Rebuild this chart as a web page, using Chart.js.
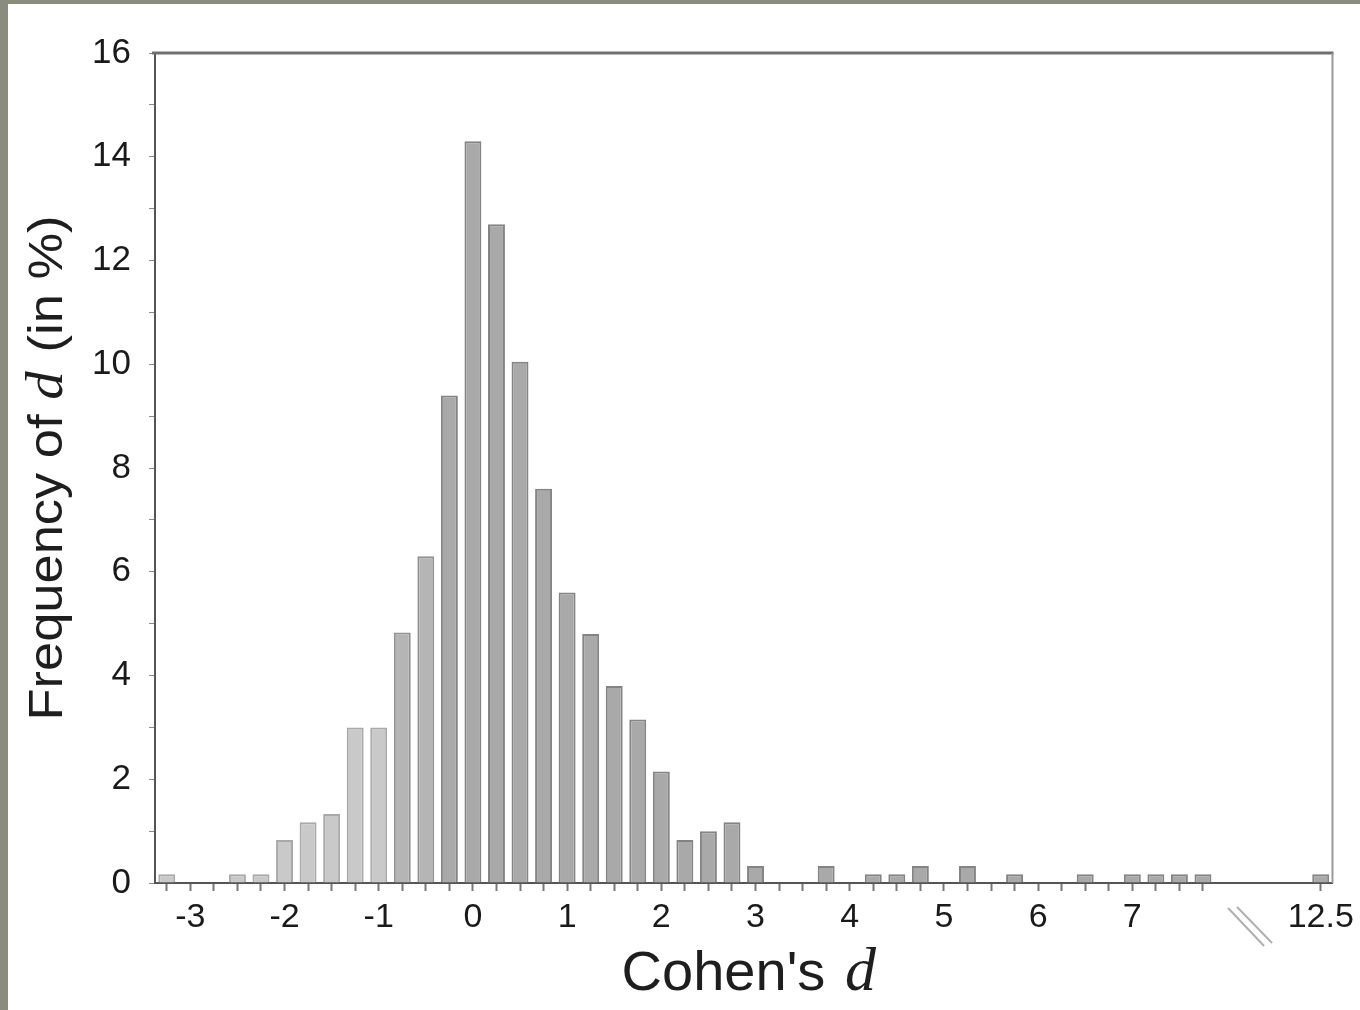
<!DOCTYPE html>
<html>
<head>
<meta charset="utf-8">
<script src="https://cdn.jsdelivr.net/npm/chart.js@4/dist/chart.umd.min.js"></script>
<style>
  html, body { margin: 0; padding: 0; }
  body { width: 1360px; height: 1010px; background: #8a8c7d; position: relative; overflow: hidden; }
  #wrap { position: absolute; left: 8px; top: 4px; width: 1352px; height: 1006px; background: #ffffff; }
  canvas { display: block; }
</style>
</head>
<body>
<div id="wrap"><canvas id="c" width="1352" height="1006"></canvas></div>
<script>
// Bin centres of Cohen's d (width 0.25); empty strings are the broken-axis gap
const binLabels = ['-3.25','-3','-2.75','-2.5','-2.25','-2','-1.75','-1.5','-1.25','-1',
  '-0.75','-0.5','-0.25','0','0.25','0.5','0.75','1','1.25','1.5',
  '1.75','2','2.25','2.5','2.75','3','3.25','3.5','3.75','4',
  '4.25','4.5','4.75','5','5.25','5.5','5.75','6','6.25','6.5',
  '6.75','7','7.25','7.5','7.75','','','','','12.5'];
// Frequency of d (in %)
const frequency = [0.17,0,0,0.17,0.17,0.83,1.17,1.33,3.0,3.0,
  4.83,6.3,9.4,14.3,12.7,10.05,7.6,5.6,4.8,3.8,
  3.15,2.15,0.83,1.0,1.17,0.33,0,0,0.33,0,
  0.17,0.17,0.33,0,0.33,0,0.17,0,0,0.17,
  0,0.17,0.17,0.17,0.17,null,null,null,null,0.17];
// Labelled x ticks
const xTickLabels = ['-3','-2','-1','0','1','2','3','4','5','6','7','12.5'];
// y axis range / ticks
const yMin = 0, yMax = 16, yMajorStep = 2;

const SANS = '"Liberation Sans", Arial, Helvetica, sans-serif';
const SERIF = '"Liberation Serif", "Times New Roman", serif';

const framePlugin = {
  id: 'frame',
  afterDatasetsDraw(chart) {
    const { ctx, chartArea: a, scales } = chart;
    ctx.save();
    // top frame line
    ctx.strokeStyle = '#707070';
    ctx.lineWidth = 3;
    ctx.beginPath();
    ctx.moveTo(a.left - 3, a.top);
    ctx.lineTo(a.right + 1, a.top);
    ctx.stroke();
    // right frame line
    ctx.strokeStyle = '#9a9a9a';
    ctx.lineWidth = 2;
    ctx.beginPath();
    ctx.moveTo(a.right, a.top);
    ctx.lineTo(a.right, a.bottom);
    ctx.stroke();
    // axis break marks
    const bx = scales.x.getPixelForValue(46);
    ctx.strokeStyle = '#b0b0b0';
    ctx.lineWidth = 2;
    ctx.beginPath();
    ctx.moveTo(bx - 22, a.bottom + 25); ctx.lineTo(bx + 14, a.bottom + 63);
    ctx.moveTo(bx - 13, a.bottom + 24); ctx.lineTo(bx + 22, a.bottom + 60);
    ctx.stroke();
    ctx.restore();
  },
  afterDraw(chart) {
    const { ctx, chartArea: a } = chart;
    ctx.save();
    ctx.fillStyle = '#1e1e1e';
    // x axis title: Cohen's d
    const fs = 56;
    ctx.textBaseline = 'alphabetic';
    ctx.font = fs + 'px ' + SANS;
    const p1 = "Cohen's ";
    const w1 = ctx.measureText(p1).width;
    ctx.font = 'italic ' + (fs + 6) + 'px ' + SERIF;
    const w2 = ctx.measureText('d').width;
    const cx = (a.left + a.right) / 2 + 3;
    let x0 = cx - (w1 + w2) / 2;
    const by = 986;
    ctx.font = fs + 'px ' + SANS;
    ctx.textAlign = 'left';
    ctx.fillText(p1, x0, by);
    ctx.font = 'italic ' + (fs + 6) + 'px ' + SERIF;
    ctx.fillText('d', x0 + w1 + 4, by);

    // y axis title: Frequency of d (in %)
    const yf = 48;
    const s1 = 'Frequency of ', s2 = 'd', s3 = ' (in %)';
    ctx.font = yf + 'px ' + SANS;
    const m1 = ctx.measureText(s1).width, m3 = ctx.measureText(s3).width;
    ctx.font = 'italic ' + (yf + 4) + 'px ' + SERIF;
    const m2 = ctx.measureText(s2).width + 4;
    const total = m1 + m2 + m3;
    const target = 505;
    const sx = target / total;
    ctx.translate(54, 464);
    ctx.rotate(-Math.PI / 2);
    ctx.scale(sx, 1);
    let tx = -total / 2;
    ctx.font = yf + 'px ' + SANS;
    ctx.fillText(s1, tx, 0); tx += m1;
    ctx.font = 'italic ' + (yf + 4) + 'px ' + SERIF;
    ctx.fillText(s2, tx, 0); tx += m2;
    ctx.font = yf + 'px ' + SANS;
    ctx.fillText(s3, tx, 0);
    ctx.restore();
  }
};

function shade(i) {
  const v = parseFloat(binLabels[i]);
  if (v < -0.8) return 0;
  if (v < -0.3) return 1;
  return 2;
}
const fills = ['#c9c9c9', '#b5b5b5', '#a9a9a9'];
const edges = ['#a9a9a9', '#929292', '#848484'];

new Chart(document.getElementById('c'), {
  type: 'bar',
  data: {
    labels: binLabels,
    datasets: [{
      data: frequency,
      backgroundColor: ctx => fills[shade(ctx.dataIndex)],
      borderColor: ctx => edges[shade(ctx.dataIndex)],
      borderWidth: ctx => (ctx.raw ? 2 : 0),
      borderSkipped: 'bottom',
      barPercentage: 0.72,
      categoryPercentage: 1.0
    }]
  },
  options: {
    responsive: false,
    animation: false,
    devicePixelRatio: 1,
    layout: { padding: { top: 49, right: 20, left: 0, bottom: 0 } },
    plugins: {
      legend: { display: false },
      tooltip: { enabled: false },
      title: { display: false }
    },
    scales: {
      x: {
        type: 'category',
        offset: true,
        afterFit(scale) { scale.height = 127; },
        border: { display: true, color: '#555555', width: 2 },
        grid: {
          display: true,
          offset: false,
          drawOnChartArea: false,
          drawTicks: true,
          tickLength: 8,
          tickWidth: 2,
          tickColor: ctx => (binLabels[ctx.index] === '' ? 'rgba(0,0,0,0)' : '#777777')
        },
        ticks: {
          autoSkip: false,
          maxRotation: 0,
          minRotation: 0,
          padding: 6,
          color: '#1a1a1a',
          font: { family: SANS, size: 34 },
          callback(value) {
            const l = this.getLabelForValue(value);
            return xTickLabels.includes(l) ? l : '';
          }
        }
      },
      y: {
        min: yMin,
        max: yMax,
        afterFit(scale) { scale.width = 147; },
        border: { display: true, color: '#555555', width: 2 },
        grid: {
          display: true,
          drawOnChartArea: false,
          drawTicks: true,
          tickLength: 6,
          tickWidth: 1,
          tickColor: '#888888'
        },
        ticks: {
          stepSize: 1,
          padding: 18,
          color: '#1a1a1a',
          font: { family: SANS, size: 35 },
          callback(v) { return v % yMajorStep === 0 ? String(v) : ''; }
        }
      }
    }
  },
  plugins: [framePlugin]
});
</script>
</body>
</html>
